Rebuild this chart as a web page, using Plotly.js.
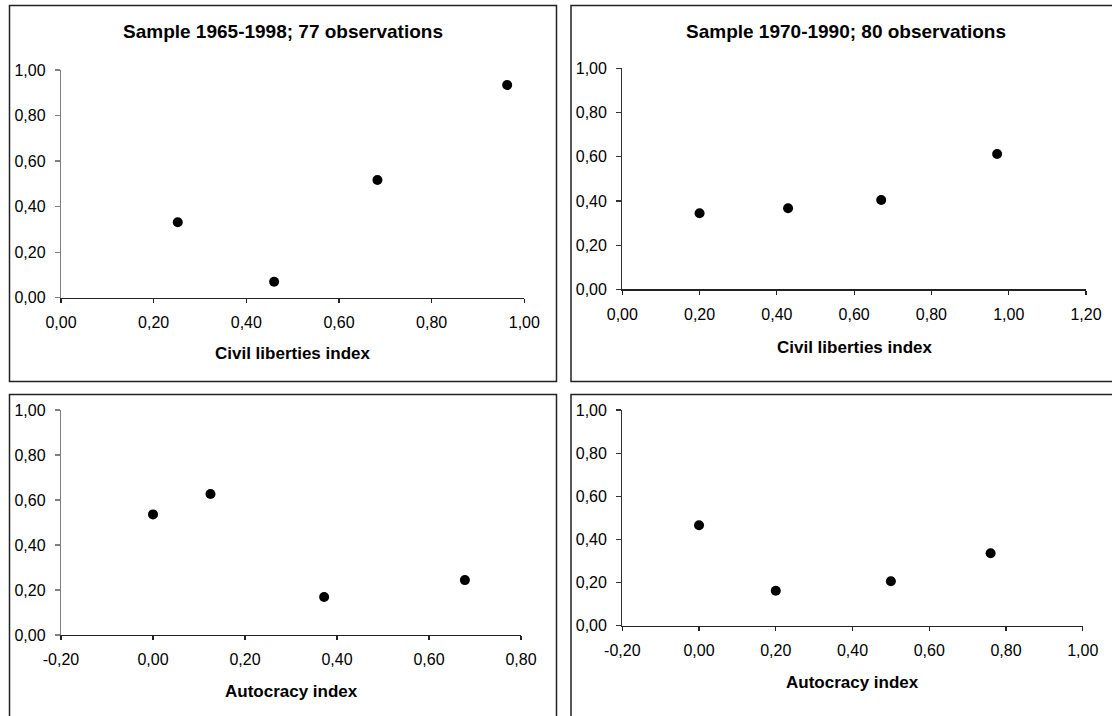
<!DOCTYPE html>
<html>
<head>
<meta charset="utf-8">
<script src="https://cdn.plot.ly/plotly-3.0.1.min.js"></script>
<style>html,body{margin:0;padding:0;background:#fff;}#chart{width:1112px;height:716px;}</style>
</head>
<body>
<div id="chart"></div>
<script>
// Panel titles and axis titles
const panelTitles = ["Sample 1965-1998; 77 observations", "Sample 1970-1990; 80 observations"];
const xTitles = ["Civil liberties index", "Civil liberties index", "Autocracy index", "Autocracy index"];

// Top-left: civil liberties, 1965-1998
const civ65_x = [0.252, 0.460, 0.683, 0.963];
const civ65_y = [0.331, 0.070, 0.517, 0.934];
// Top-right: civil liberties, 1970-1990
const civ70_x = [0.200, 0.429, 0.670, 0.970];
const civ70_y = [0.344, 0.367, 0.404, 0.612];
// Bottom-left: autocracy, 1965-1998
const aut65_x = [0.000, 0.125, 0.372, 0.678];
const aut65_y = [0.536, 0.627, 0.169, 0.244];
// Bottom-right: autocracy, 1970-1990
const aut70_x = [0.000, 0.200, 0.500, 0.760];
const aut70_y = [0.466, 0.162, 0.206, 0.336];

// Tick values and labels
const yTickVals = [0, 0.2, 0.4, 0.6, 0.8, 1.0];
const yTickText = ["0,00", "0,20", "0,40", "0,60", "0,80", "1,00"];
const xTickVals1 = [0, 0.2, 0.4, 0.6, 0.8, 1.0];
const xTickText1 = ["0,00", "0,20", "0,40", "0,60", "0,80", "1,00"];
const xTickVals2 = [0, 0.2, 0.4, 0.6, 0.8, 1.0, 1.2];
const xTickText2 = ["0,00", "0,20", "0,40", "0,60", "0,80", "1,00", "1,20"];
const xTickVals3 = [-0.2, 0, 0.2, 0.4, 0.6, 0.8];
const xTickText3 = ["-0,20", "0,00", "0,20", "0,40", "0,60", "0,80"];
const xTickVals4 = [-0.2, 0, 0.2, 0.4, 0.6, 0.8, 1.0];
const xTickText4 = ["-0,20", "0,00", "0,20", "0,40", "0,60", "0,80", "1,00"];

// Axis ranges
const xRanges = [[0, 1.0], [0, 1.2], [-0.2, 0.8], [-0.2, 1.0]];
const yRange = [0, 1];

const W = 1112, H = 716;
const px = v => v / W;
const py = v => 1 - v / H;

const marker = {symbol: 'circle', size: 10, color: '#000'};
const traces = [
  {x: civ65_x, y: civ65_y, xaxis: 'x', yaxis: 'y'},
  {x: civ70_x, y: civ70_y, xaxis: 'x2', yaxis: 'y2'},
  {x: aut65_x, y: aut65_y, xaxis: 'x3', yaxis: 'y3'},
  {x: aut70_x, y: aut70_y, xaxis: 'x4', yaxis: 'y4'}
].map(t => Object.assign(t, {type: 'scatter', mode: 'markers', marker: marker, hoverinfo: 'x+y', cliponaxis: false}));

const tickFont = {family: 'Liberation Sans, Arial, sans-serif', size: 16, color: '#000'};

function xax(range, domain, anchor, vals, text) {
  return {range: range, domain: domain, anchor: anchor, tickmode: 'array', tickvals: vals, ticktext: text,
    showgrid: false, zeroline: false, showline: true, linecolor: '#222', linewidth: 1.2,
    ticks: 'outside', ticklen: 4, tickcolor: '#222', tickwidth: 1.2, tickfont: tickFont,
    ticklabelstandoff: 6, fixedrange: true};
}
function yax(domain, anchor, col) {
  return {range: yRange, domain: domain, anchor: anchor, tickmode: 'array', tickvals: yTickVals, ticktext: yTickText,
    showgrid: false, zeroline: false, showline: true, linecolor: col, linewidth: 1.2,
    ticks: 'outside', ticklen: 5, tickcolor: col, tickwidth: 1.2, tickfont: tickFont,
    ticklabelstandoff: 6, fixedrange: true};
}

const dom = {
  tl: {x: [px(61), px(524.3)], y: [py(297.7), py(70)]},
  tr: {x: [px(622.3), px(1086)], y: [py(289.3), py(68.3)]},
  bl: {x: [px(61), px(521)], y: [py(635), py(410)]},
  br: {x: [px(622.3), px(1082.7)], y: [py(625.7), py(410)]}
};

const titleFont = {family: 'Liberation Sans, Arial, sans-serif', size: 19, color: '#000'};
const axTitleFont = {family: 'Liberation Sans, Arial, sans-serif', size: 17, color: '#000'};

function ann(text, x, y, font) {
  return {text: '<b>' + text + '</b>', xref: 'paper', yref: 'paper', x: px(x), y: py(y),
    xanchor: 'center', yanchor: 'middle', showarrow: false, font: font};
}

const boxLine = {color: '#222', width: 1.5};
function box(x0, y0, x1, y1) {
  return {type: 'rect', xref: 'paper', yref: 'paper', x0: px(x0), y0: py(y0), x1: px(x1), y1: py(y1), line: boxLine, fillcolor: 'rgba(0,0,0,0)', layer: 'above'};
}

const layout = {
  width: W, height: H, margin: {l: 0, r: 0, t: 0, b: 0},
  paper_bgcolor: '#fff', plot_bgcolor: 'rgba(0,0,0,0)',
  showlegend: false,
  font: {family: 'Liberation Sans, Arial, sans-serif', color: '#000'},
  xaxis: xax(xRanges[0], dom.tl.x, 'y', xTickVals1, xTickText1),
  yaxis: yax(dom.tl.y, 'x', '#808080'),
  xaxis2: xax(xRanges[1], dom.tr.x, 'y2', xTickVals2, xTickText2),
  yaxis2: yax(dom.tr.y, 'x2', '#333'),
  xaxis3: xax(xRanges[2], dom.bl.x, 'y3', xTickVals3, xTickText3),
  yaxis3: yax(dom.bl.y, 'x3', '#808080'),
  xaxis4: xax(xRanges[3], dom.br.x, 'y4', xTickVals4, xTickText4),
  yaxis4: yax(dom.br.y, 'x4', '#333'),
  annotations: [
    ann(panelTitles[0], 283, 31, titleFont),
    ann(panelTitles[1], 845.5, 31, titleFont),
    ann(xTitles[0], 292.7, 354, axTitleFont),
    ann(xTitles[1], 854, 347.7, axTitleFont),
    ann(xTitles[2], 291, 691.7, axTitleFont),
    ann(xTitles[3], 852.5, 682.7, axTitleFont)
  ],
  shapes: [
    box(9.5, 5.5, 556.5, 381.5),
    box(571, 5.5, 1125, 381.5),
    box(9.5, 394.5, 556.5, 730),
    box(571, 394.5, 1125, 730)
  ]
};

Plotly.newPlot('chart', traces, layout, {displayModeBar: false, staticPlot: true});
</script>
</body>
</html>
